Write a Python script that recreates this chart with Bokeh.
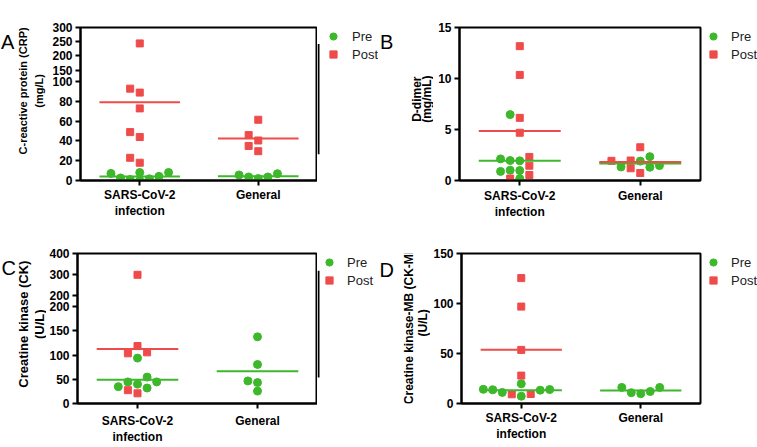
import numpy as np
from bokeh.plotting import figure
from bokeh.models import Range1d, LinearAxis, FixedTicker, Legend, LegendItem
from bokeh.layouts import row, column
from bokeh.embed import file_html
from bokeh.resources import INLINE
from bokeh.core.properties import value

# ---------------- data ----------------
groups = ["SARS-CoV-2\ninfection", "General"]
legend_labels = ["Pre", "Post"]

# A: C-reactive protein (mg/L)
crp_pre_sars = [8.1, 4.2, 1.7, 0.0, 8.1, 1.0, 2.6, 7.2]
crp_post_sars = [244, 89, 93, 73, 44, 49, 23, 18]
crp_pre_general = [6.9, 3.6, 2.0, 3.6, 5.6]
crp_post_general = [61.5, 46, 40.5, 35, 29.7]
crp_ticks_lower = [0, 20, 40, 60, 80, 100]
crp_ticks_upper = [150, 200, 250, 300]

# B: D-dimer (mg/mL)
dd_pre_sars = [6.46, 2.12, 1.93, 1.96, 0.98, 0.89, 1.01, 0.19]
dd_post_sars = [13.17, 10.35, 6.14, 4.68, 2.31, 1.45, 0.54, 0.19]
dd_pre_general = [2.34, 1.46, 1.30, 1.90, 1.33]
dd_post_general = [3.26, 1.93, 1.96, 1.20, 0.73]
dd_ticks = [0, 5, 10, 15]

# C: Creatine kinase (U/L)
ck_pre_sars = [54.5, 44.6, 44.6, 40, 93.8, 32, 34.8]
ck_post_sars = [298, 118.6, 105.6, 103.6, 27.5, 21]
ck_pre_general = [137.7, 80.6, 46.6, 43.3, 25.6]
ck_post_general = []
ck_ticks_lower = [0, 50, 100, 150, 200]
ck_ticks_upper = [200, 300, 400]

# D: Creatine kinase-MB (U/L)
ckmb_pre_sars = [14, 13.3, 19.7, 14.2, 7.3, 11.1, 13.7]
ckmb_post_sars = [125.4, 96.9, 53.6, 27.9, 9.5, 9.2]
ckmb_pre_general = [16.1, 12, 9.8, 10.8, 16.1]
ckmb_post_general = []
ckmb_ticks = [0, 50, 100, 150]

# ---------------- style / layout ----------------
GREEN = "#3DB82B"
RED = "#EF4B4B"
FONT = "Liberation Sans"

SPECS = [
    dict(letter="A", title=["C-reactive protein (CRP)", "(mg/L)"], title_size="11px",
         pre=[crp_pre_sars, crp_pre_general], post=[crp_post_sars, crp_post_general],
         segs=[(0, 100, 183, 81), (150, 300, 69, 25)],
         ticks=[crp_ticks_lower, crp_ticks_upper],
         row=(0, 222), left=(0, 46), mid=(46, 317), frame=(80, 317), border=(317, 324),
         right=(324, 378),
         letter_pos=(0.5, 21), title_x=(22.5, 38.8), title_y=92,
         legend_top=27, legend_standoff=10, xstandoff=2),
    dict(letter="B", title=["D-dimer", "(mg/mL)"], title_size="12px",
         pre=[dd_pre_sars, dd_pre_general], post=[dd_post_sars, dd_post_general],
         segs=[(0, 15, 183, 25)], ticks=[dd_ticks],
         row=(0, 222), left=(378, 433), mid=(433, 704), frame=(459, 700), border=None,
         right=(704, 757),
         letter_pos=(379.5, 21.7), title_x=(416.4, 426.2), title_y=104,
         legend_top=27, legend_standoff=9, xstandoff=3),
    dict(letter="C", title=["Creatine kinase (CK)", "(U/L)"], title_size="13px",
         pre=[ck_pre_sars, ck_pre_general], post=[ck_post_sars, ck_post_general],
         segs=[(0, 200, 407, 305), (200, 400, 293, 249)],
         ticks=[ck_ticks_lower, ck_ticks_upper],
         row=(222, 447), left=(0, 46), mid=(46, 317), frame=(77, 317), border=(317, 320),
         right=(320, 378),
         letter_pos=(1, 243.3), title_x=(23.3, 38.8), title_y=328,
         legend_top=251, legend_standoff=9, xstandoff=5),
    dict(letter="D", title=["Creatine kinase-MB (CK-MB)", "(U/L)"], title_size="12px",
         pre=[ckmb_pre_sars, ckmb_pre_general], post=[ckmb_post_sars, ckmb_post_general],
         segs=[(0, 150, 410, 252)], ticks=[ckmb_ticks],
         row=(222, 447), left=(378, 430), mid=(430, 704), frame=(458, 700), border=None,
         right=(704, 757),
         letter_pos=(379, 246.7), title_x=(408, 422.5), title_y=326,
         legend_top=253, legend_standoff=9, xstandoff=2),
]

CENTERS = [0.5, 1.5]
HALF_LINE = 0.34
STEP_PX = 9.6
DIAM_PX = 8.0


def make_fig(width, height, xr, yr, mbl=0, mbr=0, mbt=0, mbb=0, outline=None):
    p = figure(width=int(width), height=int(height), x_range=xr, y_range=yr,
               x_axis_location=None, y_axis_location=None,
               toolbar_location=None, output_backend="svg",
               min_border_left=int(mbl), min_border_right=int(mbr),
               min_border_top=int(mbt), min_border_bottom=int(mbb))
    p.grid.visible = False
    p.outline_line_color = outline
    p.outline_line_width = 2
    p.background_fill_color = "white"
    p.border_fill_color = "white"
    return p


def tick_axis(ticks, overrides=None, standoff=3, line_height=1.2):
    ax = LinearAxis(ticker=FixedTicker(ticks=ticks))
    if overrides:
        ax.major_label_overrides = overrides
    ax.axis_line_width = 2
    ax.axis_line_color = "black"
    ax.major_tick_line_width = 2
    ax.major_tick_line_color = "black"
    ax.major_tick_out = 5
    ax.major_tick_in = 0
    ax.minor_tick_line_color = None
    ax.major_label_text_font = FONT
    ax.major_label_text_font_style = "bold"
    ax.major_label_text_font_size = "12px"
    ax.major_label_text_color = "black"
    ax.major_label_text_line_height = line_height
    ax.major_label_standoff = standoff
    return ax


def seg_range(seg, ft, fb):
    v0, v1, p0, p1 = seg
    k = (v1 - v0) / (p0 - p1)
    return Range1d(v0 - (fb - p0) * k, v1 + (p1 - ft) * k)


def swarm(series_vals, to_px, px_per_x):
    pts = [(v, si, i) for si, vals in enumerate(series_vals) for i, v in enumerate(vals)]
    pts.sort(key=lambda t: t[0])
    order = [0]
    for j in range(1, 30):
        order += [-j, j]
    placed = []
    offs = [[0.0] * len(v) for v in series_vals]
    for v, si, i in pts:
        py = to_px(v)
        chosen = 0
        for slot in order:
            if all(not (s == slot and abs(py - q) < DIAM_PX) for s, q in placed):
                chosen = slot
                break
        placed.append((chosen, py))
        offs[si][i] = chosen * STEP_PX / px_per_x
    return offs


def build_mid(spec):
    rt, rb = spec["row"]
    ml, mr = spec["mid"]
    fl, fr = spec["frame"]
    segs = spec["segs"]
    px_per_x = (fr - fl) / 2.0
    ft = min(s[3] for s in segs)
    fb = max(s[2] for s in segs)

    def seg_of(v):
        for j, (v0, v1, p0, p1) in enumerate(segs):
            if v0 <= v <= v1:
                return j
        return len(segs) - 1

    def to_px(v):
        v0, v1, p0, p1 = segs[seg_of(v)]
        return p0 - (v - v0) / (v1 - v0) * (p0 - p1)

    offsets = []
    for gi in range(2):
        offsets.append(swarm([spec["pre"][gi], spec["post"][gi]], to_px, px_per_x))

    xr = Range1d(0, 2)
    ranges = [seg_range(s, ft, fb) for s in segs]
    f = make_fig(mr - ml, rb - rt, xr, ranges[0],
                 mbl=fl - ml, mbr=mr - fr, mbt=ft - rt, mbb=rb - fb, outline="black")
    names = ["default"]
    extra = {}
    for j in range(1, len(segs)):
        extra["seg%d" % j] = ranges[j]
        names.append("seg%d" % j)
    if extra:
        f.extra_y_ranges = extra

    # one left axis on the main range; ticks of the upper segment are placed at
    # their positions expressed in main-range units and labelled with their values
    lo = segs[0]
    k_lo = (lo[1] - lo[0]) / (lo[2] - lo[3])
    tick_pos = [float(t) for t in spec["ticks"][0]]
    overrides = {}
    for j in range(1, len(segs)):
        v0, v1, p0, p1 = segs[j]
        for t in spec["ticks"][j]:
            py = p0 - (t - v0) / (v1 - v0) * (p0 - p1)
            pos = lo[0] + (lo[2] - py) * k_lo
            tick_pos.append(pos)
            overrides[pos] = str(t)
    f.add_layout(tick_axis(tick_pos, overrides=overrides, line_height=1.0), "left")
    f.add_layout(tick_axis(CENTERS, overrides={CENTERS[0]: groups[0], CENTERS[1]: groups[1]},
                           standoff=spec["xstandoff"]), "below")

    series = [("pre", 0, "circle", 8, GREEN), ("post", 1, "square", 7, RED)]
    for j, nm in enumerate(names):
        for key, si, marker, size, color in series:
            xs, ys = [], []
            for gi in range(2):
                for v, o in zip(spec[key][gi], offsets[gi][si]):
                    if seg_of(v) == j:
                        xs.append(CENTERS[gi] + o)
                        ys.append(v)
            if xs:
                f.scatter(x=xs, y=ys, marker=marker, size=size,
                          fill_color=color, line_color=color, y_range_name=nm)
    for key, si, marker, size, color in series:
        for gi in range(2):
            vals = spec[key][gi]
            if len(vals) == 0:
                continue
            m = float(np.mean(vals))
            f.segment(x0=[CENTERS[gi] - HALF_LINE], y0=[m],
                      x1=[CENTERS[gi] + HALF_LINE], y1=[m],
                      line_color=color, line_width=2, y_range_name=names[seg_of(m)])
    return f


def build_border(spec):
    # thin strip right of the frame carrying the frame's right edge
    x0, x1 = spec["border"]
    rt, rb = spec["row"]
    w, h = x1 - x0, rb - rt
    segs = spec["segs"]
    ft = min(s[3] for s in segs)
    fb = max(s[2] for s in segs)
    b = make_fig(w, h, Range1d(0, w), Range1d(0, h))
    b.segment(x0=[1], y0=[h - (ft - 1 - rt)], x1=[1], y1=[h - (fb + 1 - rt)],
              line_color="black", line_width=2)
    return b


def build_left(spec):
    x0, x1 = spec["left"]
    rt, rb = spec["row"]
    w, h = x1 - x0, rb - rt
    s = make_fig(w, h, Range1d(0, w), Range1d(0, h))
    lx, ly = spec["letter_pos"]
    s.text(x=[lx - x0], y=[h - (ly - rt)], text=[spec["letter"]],
           text_font=value(FONT), text_font_size="20px", text_color="black",
           text_align="left", text_baseline="alphabetic")
    tx = spec["title_x"]
    ty = spec["title_y"]
    s.text(x=[tx[0] - x0, tx[1] - x0], y=[h - (ty - rt)] * 2, text=spec["title"],
           angle=np.pi / 2, text_font=value(FONT), text_font_style="bold",
           text_font_size=spec["title_size"], text_color="black",
           text_align="center", text_baseline="middle")
    return s


def build_right(spec):
    x0, x1 = spec["right"]
    rt, rb = spec["row"]
    r = make_fig(x1 - x0, rb - rt, Range1d(0, 1), Range1d(0, 1), mbl=0,
                 mbt=spec["legend_top"] - rt)
    g1 = r.scatter(x=[np.nan], y=[np.nan], marker="circle", size=8,
                   fill_color=GREEN, line_color=GREEN)
    g2 = r.scatter(x=[np.nan], y=[np.nan], marker="square", size=7,
                   fill_color=RED, line_color=RED)
    leg = Legend(items=[LegendItem(label=legend_labels[0], renderers=[g1]),
                        LegendItem(label=legend_labels[1], renderers=[g2])],
                 location="top_left", margin=0, padding=0, spacing=0,
                 glyph_width=18, glyph_height=18, label_height=18,
                 label_standoff=spec["legend_standoff"],
                 label_text_font=FONT, label_text_font_size="13px",
                 label_text_color="#222222",
                 border_line_color=None, background_fill_alpha=0)
    r.add_layout(leg)
    return r


panels = []
for spec in SPECS:
    parts = [build_left(spec), build_mid(spec)]
    if spec["border"] is not None:
        parts.append(build_border(spec))
    parts.append(build_right(spec))
    panels.append(parts)

top = row(*panels[0], *panels[1], spacing=0)
bottom = row(*panels[2], *panels[3], spacing=0)
root = column(top, bottom, spacing=0)

open("out.html", "w").write(file_html(root, INLINE))
